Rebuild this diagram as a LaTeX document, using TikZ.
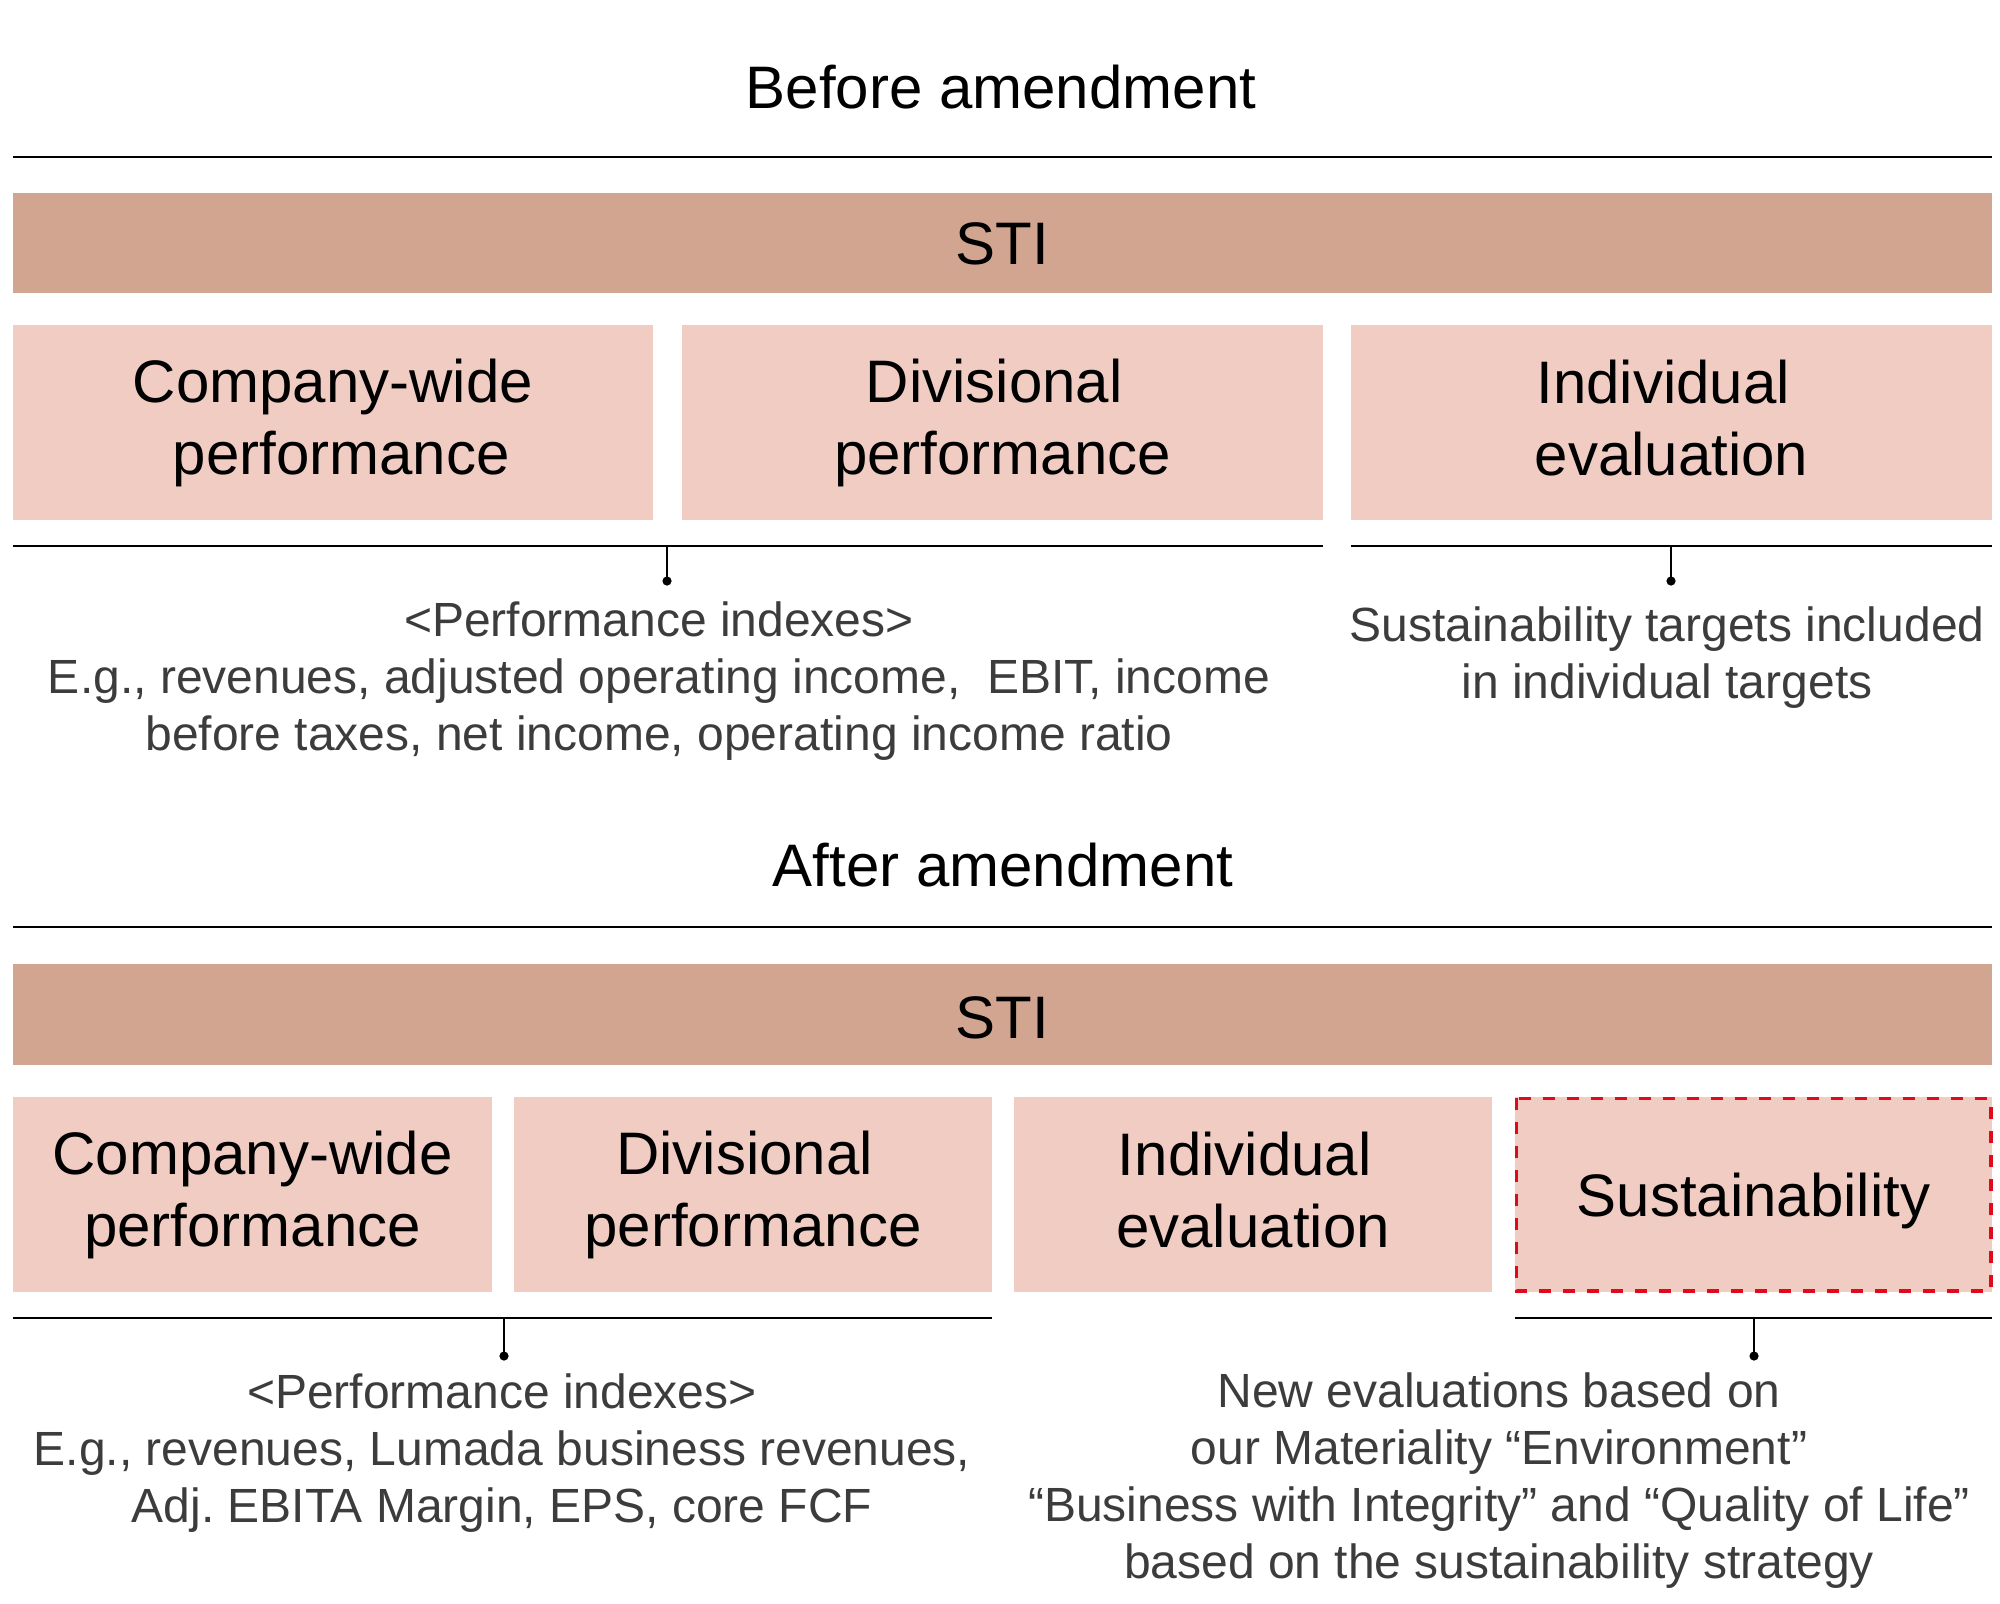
\documentclass[tikz,border=0pt]{standalone}
\usepackage{fontspec}
\setmainfont{Liberation Sans}
\frenchspacing
\definecolor{stibar}{HTML}{D2A590}
\definecolor{boxfill}{HTML}{F0CCC3}
\definecolor{dashred}{HTML}{E00A1E}
\definecolor{txtgray}{HTML}{3C3C3C}
\begin{document}
\begin{tikzpicture}[x=0.5pt,y=-0.5pt,
  bigtxt/.style={font=\fontsize{30}{36}\selectfont, text=black, align=center},
  smalltxt/.style={font=\fontsize{24}{28.5}\selectfont, text=txtgray, align=center, inner sep=0pt},
  stibox/.style={bigtxt, fill=stibar, minimum width=989.5pt, inner sep=0pt},
  partbox/.style={bigtxt, fill=boxfill, minimum height=97.5pt, inner sep=0pt},
  newborder/.style={draw=dashred, line width=1.6pt, dash pattern=on 6pt off 6pt},
  rule/.style={line width=1.4pt, black},
  stem/.style={line width=1pt, black},
  dotmark/.style={circle, fill=black, inner sep=0pt, minimum size=4.6pt}
]
\useasboundingbox (0,0) rectangle (2000,1603);

% ---------- Before amendment ----------
\node[bigtxt] (t1) at (1001,87) {Before amendment};
\coordinate (r1a) at (13,157);
\coordinate (r1b) at (1992,157);
\draw[rule] (r1a) -- (r1b);

\node[stibox, minimum height=50pt] (sti1) at (1002.5,243) {};
\node[bigtxt] (sti1t) at (1002.5,244) {STI};

\node[partbox, minimum width=320pt] (b1) at (333,422.5) {Company-wide\\\hspace*{8.3pt}performance};
\node[partbox, minimum width=320.5pt] (b2) at (1002.5,422.5) {Divisional\kern8.3pt\\performance};
\node[partbox, minimum width=320.5pt] (b3) at (1671.5,422.5) {};
\node[bigtxt, inner sep=0pt] (b3t) at (1671.5,418.5) {Individual\kern8.3pt\\evaluation};

\coordinate (u1a) at (13,546);
\coordinate (u1b) at (1323,546);
\coordinate (u2a) at (1351,546);
\coordinate (u2b) at (1992,546);
\draw[rule] (u1a) -- (u1b);
\draw[rule] (u2a) -- (u2b);

\coordinate (s1top) at (667,546);
\node[dotmark] (d1) at (667,581) {};
\coordinate (s2top) at (1671,546);
\node[dotmark] (d2) at (1671,581) {};
\draw[stem] (s1top) -- (d1.center);
\draw[stem] (s2top) -- (d2.center);

\node[smalltxt] (x1) at (659,681) {<Performance indexes>\\E.g., revenues, adjusted operating income,\ \ EBIT, income\\before taxes, net income, operating income ratio};
\node[smalltxt] (x2) at (1667,658) {Sustainability targets included\\in individual targets};

% ---------- After amendment ----------
\node[bigtxt] (t2) at (1003,865) {After amendment};
\coordinate (r2a) at (13,927);
\coordinate (r2b) at (1992,927);
\draw[rule] (r2a) -- (r2b);

\node[stibox, minimum height=50.5pt] (sti2) at (1002.5,1014.5) {};
\node[bigtxt] (sti2t) at (1002.5,1018) {STI};

\node[partbox, minimum width=239.5pt] (c1) at (252.5,1194.5) {Company-wide\\performance};
\node[partbox, minimum width=239pt] (c2) at (753,1194.5) {Divisional\kern8.3pt\\performance};
\node[partbox, minimum width=239pt] (c3) at (1253,1194.5) {};
\node[bigtxt, inner sep=0pt] (c3t) at (1253,1190.5) {Individual\kern8.3pt\\evaluation};
\node[partbox, minimum width=238.5pt] (c4) at (1753.5,1194.5) {};
\node[bigtxt, inner sep=0pt] (c4t) at (1753.5,1201) {Sustainability};
\draw[newborder] ([shift={(1.5,1.5)}]c4.north west) rectangle ([shift={(-1.5,-1.5)}]c4.south east);

\coordinate (v1a) at (13,1318);
\coordinate (v1b) at (992,1318);
\coordinate (v2a) at (1515,1318);
\coordinate (v2b) at (1992,1318);
\draw[rule] (v1a) -- (v1b);
\draw[rule] (v2a) -- (v2b);

\coordinate (s3top) at (504,1318);
\node[dotmark] (d3) at (504,1356) {};
\coordinate (s4top) at (1754,1318);
\node[dotmark] (d4) at (1754,1356) {};
\draw[stem] (s3top) -- (d3.center);
\draw[stem] (s4top) -- (d4.center);

\node[smalltxt] (x3) at (502,1453) {<Performance indexes>\\E.g., revenues, Lumada business revenues,\\Adj. EBITA Margin, EPS, core FCF};
\node[smalltxt] (x4) at (1499,1481) {New evaluations based on\\our Materiality “Environment”\\“Business with Integrity” and “Quality of Life”\\based on the sustainability strategy};
\end{tikzpicture}
\end{document}
